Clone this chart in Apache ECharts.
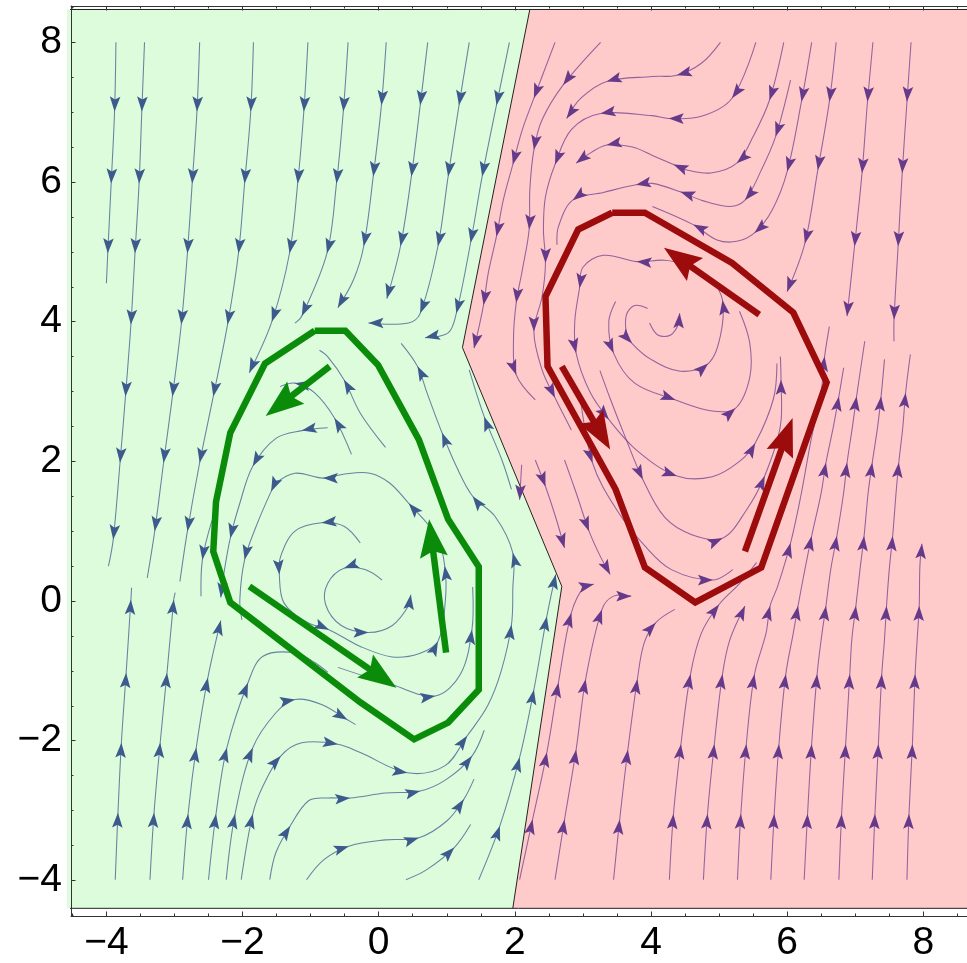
<!DOCTYPE html>
<html><head><meta charset="utf-8">
<script src="https://cdn.jsdelivr.net/npm/echarts@6/dist/echarts.min.js"></script>
<style>html,body{margin:0;padding:0;background:#fff}#c{width:967px;height:963px}</style>
</head><body><div id="c"></div>
<script>
// ---------- axis ticks ----------
const xTickValues = [-4, -2, 0, 2, 4, 6, 8];
const yTickValues = [-4, -2, 0, 2, 4, 6, 8];
const xMinorTicks = [-4.5,-3.5,-3,-2.5,-1.5,-1,-0.5,0.5,1,1.5,2.5,3,3.5,4.5,5,5.5,6.5,7,7.5,8.5];
const yMinorTicks = [-4.5,-3.5,-3,-2.5,-1.5,-1,-0.5,0.5,1,1.5,2.5,3,3.5,4.5,5,5.5,6.5,7,7.5,8.5];

// ---------- regions ----------
const greenRegion = [[-4.58,-4.40],[1.97,-4.40],[2.69,0.21],[1.23,3.63],[2.22,8.47],[-4.58,8.47]];
const redRegion = [[1.97,-4.40],[8.9,-4.40],[8.9,8.47],[2.22,8.47],[1.23,3.63],[2.69,0.21]];
const boundaryLine = [[2.22,8.47],[1.23,3.63],[2.69,0.21],[1.97,-4.40]];
const regionFrame = [[8.9,8.47],[-4.58,8.47],[-4.58,-4.40],[8.9,-4.40]];

// ---------- limit cycles ----------
const greenLoop = [[-0.94,3.87],[-0.49,3.87],[-0.01,3.38],[0.59,2.31],[1.02,1.17],[1.47,0.49],[1.47,-1.27],[1.02,-1.74],[0.52,-1.98],[-0.27,-1.45],[-2.18,-0.02],[-2.43,0.71],[-2.39,1.42],[-2.18,2.41],[-1.67,3.40]];
const redLoop = [[3.43,5.56],[3.91,5.56],[5.19,4.84],[6.09,4.13],[6.58,3.13],[5.62,0.48],[4.65,-0.02],[3.91,0.48],[3.48,1.60],[2.48,3.36],[2.45,4.36],[2.93,5.32]];
const greenBigArrows = [[[-0.72,3.36],[-1.66,2.65]],[[-1.90,0.21],[0.26,-1.24]],[[0.99,-0.74],[0.74,1.17]]];
const redBigArrows = [[[5.59,4.10],[4.19,5.06]],[[2.69,3.36],[3.40,2.17]],[[5.38,0.71],[6.08,2.62]]];

// ---------- streamlines in the green region ([x, y, 1] = arrowhead tip) ----------
const gS1 = [[-3.86,8.0],[-3.88,7.01,1],[-3.93,5.98,1],[-3.98,4.98,1],[-4.0,4.55]];
const gS2 = [[-3.44,8.0],[-3.48,7.01,1],[-3.52,5.98,1],[-3.58,4.98,1],[-3.64,3.96,1],[-3.72,2.93,1],[-3.8,1.98,1],[-3.9,0.88,1],[-3.97,0.5]];
const gS3 = [[-2.63,8.0],[-2.67,7.01,1],[-2.74,5.98,1],[-2.81,4.98,1],[-2.9,3.96,1],[-3.03,2.93,1],[-3.16,1.98,1],[-3.29,1.0,1],[-3.4,0.33]];
const gS4 = [[-1.84,8.0],[-1.88,7.01,1],[-1.97,5.98,1],[-2.06,4.98,1],[-2.22,3.96,1],[-2.43,2.93,1],[-2.63,1.98,1],[-2.81,1.0,1],[-2.92,0.28]];
const gS5 = [[-1.04,8.0],[-1.1,7.01,1],[-1.19,5.98,1],[-1.31,4.98,1],[-1.57,4.0,1],[-1.9,3.27,1]];
const gS6 = [[-0.45,8.0],[-0.52,7.01,1],[-0.62,5.98,1],[-0.76,4.98,1],[-1.13,4.08,1],[-1.23,3.98]];
const gS7 = [[0.11,8.0],[0.04,7.1,1],[-0.08,6.08,1],[-0.22,5.08,1],[-0.37,4.6],[-0.6,4.2,1]];
const gS8 = [[0.72,8.0],[0.61,7.1,1],[0.48,6.08,1],[0.32,5.08,1],[0.12,4.33,1]];
const gS9 = [[1.33,8.0],[1.18,7.1,1],[1.02,6.08,1],[0.87,5.08,1],[0.61,4.12,1],[0.44,3.98],[-0.15,3.98,1]];
const gS10 = [[1.92,8.0],[1.73,7.1,1],[1.52,6.08,1],[1.35,5.13,1],[1.14,4.12,1],[1.02,3.84],[0.68,3.77,1]];
const gShort = [[-2.45,1.15],[-2.59,0.59,1],[-2.61,0.07]];
const gU1 = [[-3.87,-3.99],[-3.83,-3.03,1],[-3.78,-2.03,1],[-3.71,-1.03,1],[-3.64,0.02,1],[-3.63,0.19]];
const gU2 = [[-3.36,-3.99],[-3.3,-3.03,1],[-3.21,-2.03,1],[-3.11,-1.03,1],[-3.01,0.02,1],[-2.99,0.12]];
const gU3 = [[-2.88,-3.99],[-2.8,-3.05,1],[-2.68,-2.1,1],[-2.51,-1.1,1],[-2.32,-0.28,1]];
const gU4 = [[-2.5,-3.99],[-2.39,-3.05,1],[-2.23,-2.1,1],[-1.92,-1.17,1],[-1.7,-0.79],[-1.23,-0.74],[-0.94,-0.88],[-0.75,-1.02]];
const gU5 = [[-2.24,-3.99],[-2.11,-3.05,1],[-1.85,-2.1,1],[-1.51,-1.6],[-1.23,-1.41,1],[-0.84,-1.48],[-0.46,-1.7,1],[-0.34,-1.77]];
const gU6 = [[-2.02,-3.99],[-1.85,-3.05,1],[-1.7,-2.65],[-1.44,-2.22,1],[-1.13,-2.03],[-0.6,-2.05,1],[-0.27,-2.17],[0.42,-2.46,1],[0.97,-2.36],[1.3,-1.93,1],[1.6,-1.5],[1.8,-1.0],[1.95,-0.34,1],[1.97,0.17],[1.97,0.69,1],[1.71,1.21],[1.38,1.5,1],[1.14,1.93],[0.93,2.41,1],[0.71,2.98],[0.57,3.36,1],[0.33,3.69]];
const gU7 = [[-1.6,-3.99],[-1.51,-3.6],[-1.3,-3.22,1],[-1.03,-2.86],[-0.75,-2.82],[-0.42,-2.82,1],[0.1,-2.75],[0.61,-2.72,1],[1.0,-2.55],[1.37,-2.22,1],[1.55,-1.85]];
const gU8 = [[-1.06,-3.99],[-0.8,-3.7],[-0.44,-3.51,1],[0.1,-3.42],[0.59,-3.39,1],[1.0,-3.15],[1.25,-2.84,1],[1.4,-2.55]];
const gU9 = [[0.4,-3.99],[0.7,-3.85],[1.11,-3.53,1],[1.35,-3.2]];
const gR1 = [[1.47,-3.99],[1.78,-3.22,1],[2.07,-2.24,1],[2.28,-1.27,1],[2.47,-0.22,1],[2.6,0.38,1]];
const gR4 = [[1.95,1.6],[1.81,2.02],[1.55,2.64,1],[1.33,3.31]];
const gIn1 = [[0.05,0.3],[-0.2,0.45],[-0.51,0.47,1],[-0.75,0.25],[-0.78,-0.05],[-0.55,-0.35],[-0.15,-0.45,1],[0.2,-0.35],[0.45,-0.05],[0.47,0.09,1]];
const gIn2 = [[-0.27,0.83],[-0.51,1.07],[-0.84,1.12,1],[-1.23,1.0],[-1.44,0.64],[-1.46,0.38,1],[-1.39,-0.03],[-1.04,-0.31],[-0.73,-0.41,1],[-0.27,-0.65],[0.2,-0.8],[0.6,-0.75],[0.87,-0.58,1],[0.98,0.02],[0.97,0.5,1],[0.85,0.93],[0.44,1.4,1],[0.16,1.69],[-0.13,1.83],[-0.5,1.82],[-0.82,1.76,1],[-1.23,1.83],[-1.51,1.69],[-1.58,1.57,1],[-1.8,1.07],[-1.97,0.59,1],[-2.04,0.02],[-2.01,-0.27]];
const gIn3 = [[-0.6,-0.95],[0.2,-1.2],[0.83,-1.36,1],[1.2,-1.05],[1.37,-0.41,1],[1.38,0.2]];
const gIn4 = [[-0.75,2.48],[-1.13,2.44,1],[-1.51,2.33],[-1.85,1.93,1],[-2.04,1.4],[-2.18,0.9,1],[-2.28,0.36],[-2.32,0.05,1]];
const gIn5 = [[0.1,2.2],[-0.27,2.69],[-0.51,3.17,1],[-0.75,3.5],[-0.87,3.59]];
const gIn6 = [[-0.4,2.1],[-0.65,2.62,1],[-0.94,2.98],[-1.23,3.12,1],[-1.45,3.07]];

// ---------- streamlines in the red region ----------
const rLa = [[5.02,8.0],[4.74,7.7],[4.38,7.53,1],[4.02,7.51],[3.35,7.44,1],[2.97,7.2],[2.76,6.91,1]];
const rLb = [[5.54,8.0],[5.19,7.2,1],[4.74,6.94],[4.26,6.91,1],[4.02,6.95],[3.26,6.98,1],[2.83,6.75],[2.59,6.25,1],[2.45,5.79],[2.42,5.32],[2.45,4.84,1],[2.4,4.36],[2.28,3.86,1],[2.4,3.31],[2.59,2.91,1],[2.83,2.45]];
const rLc = [[5.95,8.0],[5.74,7.17,1],[5.5,6.65],[5.26,6.27,1],[4.88,6.13],[4.5,6.18],[4.33,6.25,1],[4.02,6.38],[3.73,6.5],[3.35,6.53,1],[3.02,6.36],[2.9,6.27,1]];
const rLd = [[6.05,7.46],[5.83,6.65,1],[5.62,6.17],[5.38,5.74,1],[5.16,5.65],[4.74,5.74],[4.43,5.86,1],[4.02,5.98],[3.78,5.96,1],[3.3,5.85],[2.85,5.74,1],[2.64,5.36],[2.62,5.1]];
const rLe = [[6.36,8.0],[6.21,7.15,1],[6.0,6.15,1],[5.78,5.6],[5.52,5.27,1],[5.26,5.15],[4.97,5.17],[4.62,5.39,1],[4.02,5.65]];
const rLf = [[6.72,8.0],[6.62,7.15,1],[6.45,6.17,1],[6.26,5.12,1],[6.0,4.43,1]];
const rLg = [[7.26,8.0],[7.18,7.15,1],[7.1,6.13,1],[6.99,5.08,1],[6.88,4.08,1]];
const rLh = [[7.82,8.0],[7.76,7.15,1],[7.69,6.13,1],[7.63,5.08,1],[7.57,4.03,1],[7.57,3.72]];
const rO1 = [[2.59,8.0],[2.28,7.2,1],[2.11,6.75],[1.97,6.25,1],[1.83,5.74],[1.73,5.22,1],[1.61,4.7],[1.54,4.24,1],[1.47,3.91],[1.4,3.62,1]];
const rO2 = [[3.26,8.0],[2.71,7.39,1],[2.4,6.89],[2.28,6.46,1],[2.22,5.89],[2.21,5.32,1],[2.11,4.74],[2.02,4.27,1],[1.98,3.74],[2.02,3.24,1],[2.3,2.88]];
const rZa = [[2.1,1.95],[2.07,1.45,1]];
const rZb = [[2.3,2.02],[2.45,1.64,1],[2.6,1.2],[2.73,0.76,1]];
const rZc = [[2.73,2.02],[2.9,1.55],[3.09,1.0,1],[3.25,0.65],[3.4,0.38,1]];
const rB1 = [[2.07,-3.99],[2.26,-3.13,1],[2.47,-2.17,1],[2.64,-1.17,1],[2.83,-0.17,1],[3.02,0.21],[3.16,0.24,1]];
const rB2 = [[2.59,-3.99],[2.73,-3.13,1],[2.9,-2.13,1],[3.04,-1.12,1],[3.28,-0.12,1],[3.45,0.07],[3.71,0.07,1]];
const rB3 = [[3.45,-3.99],[3.54,-3.13,1],[3.66,-2.13,1],[3.8,-1.12,1],[3.9,-0.6],[4.07,-0.31,1],[4.35,-0.12]];
const rC1 = [[4.27,-3.99],[4.33,-3.05,1],[4.44,-2.05,1],[4.58,-1.05,1],[4.74,-0.46],[5.0,-0.05,1],[5.3,0.25],[5.55,0.55]];
const rC2 = [[4.77,-3.99],[4.83,-3.05,1],[4.93,-2.05,1],[5.05,-1.05,1],[5.16,-0.55],[5.38,-0.07,1]];
const rC3 = [[5.27,-3.99],[5.32,-3.05,1],[5.4,-2.05,1],[5.52,-1.05,1],[5.69,-0.46],[5.75,-0.07,1],[5.86,0.21],[6.05,0.83,1],[6.2,1.5],[6.35,2.3],[6.5,3.0],[6.55,3.5,1],[6.62,3.93]];
const rC4 = [[5.76,-3.99],[5.81,-3.05,1],[5.88,-2.05,1],[5.98,-1.05,1],[6.09,-0.46],[6.16,-0.07,1],[6.26,0.45],[6.36,0.93,1],[6.5,1.55],[6.57,1.98,1],[6.68,2.5],[6.76,2.93,1],[6.83,3.34]];
const rC5 = [[6.25,-3.99],[6.3,-3.05,1],[6.36,-2.05,1],[6.44,-1.05,1],[6.5,-0.55],[6.57,-0.07,1],[6.64,0.45],[6.73,0.93,1],[6.83,1.55],[6.88,1.98,1],[6.96,2.5],[7.02,2.93,1],[7.14,3.72]];
const rC6 = [[6.76,-3.99],[6.8,-3.05,1],[6.86,-2.05,1],[6.92,-1.05,1],[6.95,-0.55],[7.01,-0.07,1],[7.07,0.45],[7.13,0.93,1],[7.19,1.55],[7.25,1.98,1],[7.33,2.5],[7.38,2.93,1],[7.43,3.46]];
const rC7 = [[7.25,-3.99],[7.29,-3.05,1],[7.34,-2.05,1],[7.39,-1.05,1],[7.43,-0.55],[7.46,-0.07,1],[7.5,0.45],[7.55,0.93,1],[7.6,1.55],[7.64,1.98,1],[7.7,2.5],[7.74,2.98,1],[7.81,3.53]];
const rC8 = [[7.76,-3.99],[7.79,-3.05,1],[7.84,-2.05,1],[7.88,-1.05,1],[7.91,-0.55],[7.94,-0.07,1],[7.95,0.5],[7.98,0.82,1]];
const rIn1 = [[3.98,3.98],[4.1,3.81],[4.29,3.81],[4.41,3.98],[4.42,4.12,1]];
const rIn2 = [[3.95,4.19],[3.76,4.23],[3.64,4.1],[3.64,3.84],[3.72,3.69,1],[4.0,3.46],[4.43,3.29],[4.84,3.4,1],[5.02,3.8],[5.05,4.31,1],[4.9,4.6]];
const rIn3 = [[3.48,4.29],[3.38,4.0],[3.45,3.55,1],[3.76,3.12],[4.36,2.88,1],[4.9,2.72],[5.24,2.76,1],[5.45,3.2],[5.45,3.7],[5.3,4.15]];
const rIn4 = [[4.6,4.8],[4.2,4.88],[3.79,4.86,1],[3.3,4.95],[3.0,4.78],[2.95,4.48,1],[2.88,4.0],[2.9,3.55,1],[3.1,3.0],[3.38,2.6,1],[3.8,2.15],[4.38,1.79,1],[4.9,1.78],[5.3,2.0],[5.53,2.26,1],[5.8,2.9],[5.85,3.4]];
const rIn5 = [[3.25,3.3],[3.4,2.9],[3.6,2.4],[3.88,1.74,1],[4.2,1.2],[4.6,0.95],[5.05,0.9,1],[5.4,1.3],[5.67,1.79,1],[5.9,2.5],[5.91,3.17,1],[5.9,3.5]];
const rIn6 = [[2.95,3.0],[3.14,1.98,1],[3.5,1.3],[3.9,0.8],[4.3,0.45],[4.91,0.3,1],[5.2,0.45]];

const greenStreams = [gS1,gS2,gS3,gS4,gS5,gS6,gS7,gS8,gS9,gS10,gShort,gU1,gU2,gU3,gU4,gU5,gU6,gU7,gU8,gU9,gR1,gR4,gIn1,gIn2,gIn3,gIn4,gIn5,gIn6];
const redStreams = [rLa,rLb,rLc,rLd,rLe,rLf,rLg,rLh,rO1,rO2,rZa,rZb,rZc,rB1,rB2,rB3,rC1,rC2,rC3,rC4,rC5,rC6,rC7,rC8,rIn1,rIn2,rIn3,rIn4,rIn5,rIn6];

// ---------- rendering ----------
const FONT = '"Liberation Sans", Arial, sans-serif';
const chart = echarts.init(document.getElementById('c'));

function headPoints(tip, ux, uy, len, half, notch) {
  const bx = tip[0] - ux * len, by = tip[1] - uy * len;
  const nx = -uy, ny = ux;
  return [tip, [bx + nx * half, by + ny * half], [tip[0] - ux * (len - notch), tip[1] - uy * (len - notch)], [bx - nx * half, by - ny * half]];
}
function streamRenderer(list, lineColor, headColor) {
  return function (params, api) {
    const pts = list[params.dataIndex];
    const px = pts.map(p => api.coord([p[0], p[1]]));
    const ch = [{ type: 'polyline', shape: { points: px, smooth: 0.35 }, style: { stroke: lineColor, lineWidth: 1.05, fill: null } }];
    for (let i = 1; i < pts.length; i++) {
      if (pts[i][2]) {
        const a = px[i - 1], b = px[i];
        const c = i < px.length - 1 ? px[i + 1] : b;
        let dx = c[0] - a[0], dy = c[1] - a[1];
        if (i === px.length - 1) { dx = b[0] - a[0]; dy = b[1] - a[1]; }
        const L = Math.hypot(dx, dy) || 1;
        ch.push({ type: 'polygon', shape: { points: headPoints(b, dx / L, dy / L, 15, 5.3, 3) }, style: { fill: headColor } });
      }
    }
    return { type: 'group', children: ch };
  };
}
function bigArrowRenderer(list, color) {
  return function (params, api) {
    const a = api.coord(list[params.dataIndex][0]);
    const b = api.coord(list[params.dataIndex][1]);
    const dx = b[0] - a[0], dy = b[1] - a[1];
    const L = Math.hypot(dx, dy) || 1, ux = dx / L, uy = dy / L;
    const len = 38;
    return { type: 'group', children: [
      { type: 'line', shape: { x1: a[0], y1: a[1], x2: b[0] - ux * (len - 8), y2: b[1] - uy * (len - 8) }, style: { stroke: color, lineWidth: 6.5 } },
      { type: 'polygon', shape: { points: headPoints(b, ux, uy, len, 14, 6) }, style: { fill: color } }
    ] };
  };
}
function polyRenderer(poly, fill) {
  return function (params, api) {
    return { type: 'polygon', shape: { points: poly.map(p => api.coord(p)) }, style: { fill: fill } };
  };
}
const startPoint = list => list.map(s => [s[0][0], s[0][1]]);
const fmt = v => (v < 0 ? '\u2212' + Math.abs(v) : String(v));

function xAx(pos, ticks, len, labels, line) {
  return { type: 'value', min: -4.52, max: 8.642, position: pos, z: 20,
    axisLine: { show: line, onZero: false, lineStyle: { color: '#333', width: 1 } },
    axisTick: { show: true, inside: true, length: len, customValues: ticks, lineStyle: { color: '#333' } },
    axisLabel: labels ? { show: true, customValues: ticks, formatter: fmt, fontSize: 39, color: '#000', fontFamily: FONT, margin: 8 } : { show: false },
    splitLine: { show: false } };
}
function yAx(pos, ticks, len, labels, line) {
  return { type: 'value', min: -4.51, max: 8.52, position: pos, z: 20,
    axisLine: { show: line, onZero: false, lineStyle: { color: '#333', width: 1 } },
    axisTick: { show: true, inside: true, length: len, customValues: ticks, lineStyle: { color: '#333' } },
    axisLabel: labels ? { show: true, customValues: ticks, formatter: fmt, fontSize: 39, color: '#000', fontFamily: FONT, margin: 9 } : { show: false },
    splitLine: { show: false } };
}

chart.setOption({
  animation: false,
  backgroundColor: '#fff',
  grid: { left: 71, top: 6, width: 920, height: 911, containLabel: false },
  xAxis: [xAx('bottom', xTickValues, 4.5, true, true), xAx('bottom', xMinorTicks, 2.5, false, false), xAx('top', xTickValues, 4.5, false, true), xAx('top', xMinorTicks, 2.5, false, false)],
  yAxis: [yAx('left', yTickValues, 4.5, true, true), yAx('left', yMinorTicks, 2.5, false, false)],
  series: [
    { type: 'custom', renderItem: polyRenderer(greenRegion, '#dcfcdc'), data: [greenRegion[0]], z: 1, silent: true },
    { type: 'custom', renderItem: polyRenderer(redRegion, '#ffcaca'), data: [redRegion[0]], z: 1, silent: true },
    { type: 'line', data: regionFrame, showSymbol: false, lineStyle: { color: '#222', width: 1 }, z: 2, silent: true },
    { type: 'line', data: boundaryLine, showSymbol: false, lineStyle: { color: '#222', width: 1 }, z: 2, silent: true },
    { type: 'custom', renderItem: streamRenderer(greenStreams, 'rgba(62,90,142,0.75)', '#3d5a8c'), data: startPoint(greenStreams), z: 3, silent: true },
    { type: 'custom', renderItem: streamRenderer(redStreams, 'rgba(104,58,140,0.72)', '#663a8a'), data: startPoint(redStreams), z: 3, silent: true },
    { type: 'line', data: greenLoop.concat([greenLoop[0]]), showSymbol: false, lineStyle: { color: '#0a8c0a', width: 6.5, join: 'miter' }, z: 5, silent: true },
    { type: 'line', data: redLoop.concat([redLoop[0]]), showSymbol: false, lineStyle: { color: '#9c0c0c', width: 6.5, join: 'miter' }, z: 5, silent: true },
    { type: 'custom', renderItem: bigArrowRenderer(greenBigArrows, '#0a8c0a'), data: greenBigArrows.map(a => a[0]), z: 6, silent: true },
    { type: 'custom', renderItem: bigArrowRenderer(redBigArrows, '#9c0c0c'), data: redBigArrows.map(a => a[0]), z: 6, silent: true }
  ]
});
</script></body></html>
